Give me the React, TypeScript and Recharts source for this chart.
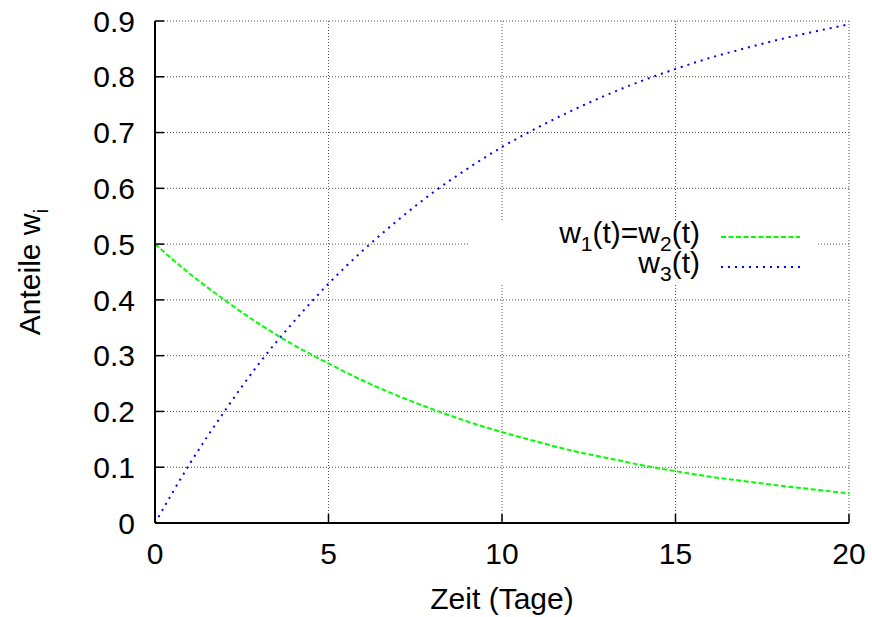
import { CartesianGrid, Legend, Line, LineChart, XAxis, YAxis } from 'recharts';

// Zeit in Tagen
const days = [0, 1, 2, 3, 4, 5, 6, 7, 8, 9, 10, 11, 12, 13, 14, 15, 16, 17, 18, 19, 20];
const w12 = [0.5, 0.447, 0.4, 0.357, 0.319, 0.286, 0.255, 0.228, 0.204, 0.182, 0.163, 0.146, 0.13, 0.117, 0.104, 0.093, 0.083, 0.075, 0.067, 0.06, 0.053];
const w3 = [0, 0.106, 0.2, 0.286, 0.361, 0.429, 0.489, 0.543, 0.592, 0.635, 0.674, 0.708, 0.739, 0.767, 0.792, 0.814, 0.834, 0.851, 0.867, 0.881, 0.894];
const xTicks = [0, 5, 10, 15, 20];
const yTicks = [0, 0.1, 0.2, 0.3, 0.4, 0.5, 0.6, 0.7, 0.8, 0.9];

const data = days.map((t, i) => ({ t, w12: w12[i], w3: w3[i] }));

const FS = 30;
const SUB = 21;

function YLabel({ viewBox }: any) {
  const cy = viewBox.y + viewBox.height / 2;
  const x = 40;
  return (
    <text x={x} y={cy} transform={`rotate(-90 ${x} ${cy})`} textAnchor="middle" fontSize={FS} fill="#000">
      Anteile w<tspan fontSize={SUB} dy={8}>i</tspan>
    </text>
  );
}

function XLabel({ viewBox }: any) {
  const cx = viewBox.x + viewBox.width / 2;
  return (
    <text x={cx} y={viewBox.y + viewBox.height - 8} textAnchor="middle" fontSize={FS} fill="#000">
      Zeit (Tage)
    </text>
  );
}

function LegendBox() {
  return (
    <svg width={350} height={62} style={{ display: 'block', overflow: 'visible' }}>
      <rect width={350} height={62} fill="#fff" />
      <text x={232} y={21} textAnchor="end" fontSize={FS} fill="#000">
        w<tspan fontSize={SUB} dy={8}>1</tspan>
        <tspan dy={-8}>(t)=w</tspan>
        <tspan fontSize={SUB} dy={8}>2</tspan>
        <tspan dy={-8}>(t)</tspan>
      </text>
      <line x1={253} x2={332} y1={15} y2={15} stroke="#00ff00" strokeWidth={2} strokeDasharray="5 2.5" />
      <text x={232} y={51} textAnchor="end" fontSize={FS} fill="#000">
        w<tspan fontSize={SUB} dy={8}>3</tspan>
        <tspan dy={-8}>(t)</tspan>
      </text>
      <line x1={253} x2={332} y1={45} y2={45} stroke="#0000ff" strokeWidth={2} strokeDasharray="2 5" />
    </svg>
  );
}

const axisLine = { stroke: '#000', strokeWidth: 2 };
const tickLine = { stroke: '#000', strokeWidth: 1.5 };

export default function App() {
  return (
    <div style={{ position: 'absolute', left: 0, top: 0, fontFamily: '"Liberation Sans", Arial, sans-serif' }}>
      <LineChart width={872} height={617} data={data} margin={{ top: 21, right: 23, left: 0, bottom: 0 }}>
        <CartesianGrid stroke="#555" strokeDasharray="1 2" />
        <XAxis
          dataKey="t"
          type="number"
          domain={[0, 20]}
          ticks={xTicks}
          height={94}
          tick={{ fill: '#000', fontSize: FS }}
          tickSize={-9}
          tickMargin={29}
          axisLine={axisLine}
          tickLine={tickLine}
          label={<XLabel />}
        />
        <XAxis
          xAxisId="top"
          orientation="top"
          dataKey="t"
          type="number"
          domain={[0, 20]}
          ticks={xTicks}
          height={0}
          tick={false}
          tickSize={-9}
          axisLine={axisLine}
          tickLine={tickLine}
        />
        <YAxis
          type="number"
          domain={[0, 0.9]}
          ticks={yTicks}
          width={155}
          tick={{ fill: '#000', fontSize: FS }}
          tickFormatter={(v: number) => (v === 0 ? '0' : v.toFixed(1))}
          tickSize={-9}
          tickMargin={29}
          axisLine={axisLine}
          tickLine={tickLine}
          label={<YLabel />}
        />
        <YAxis
          yAxisId="right"
          orientation="right"
          type="number"
          domain={[0, 0.9]}
          ticks={yTicks}
          width={0}
          tick={false}
          tickSize={-9}
          axisLine={axisLine}
          tickLine={tickLine}
        />
        <Legend
          layout="vertical"
          align="center"
          verticalAlign="middle"
          wrapperStyle={{ left: 468, top: 222, width: 350, height: 62 }}
          content={() => <LegendBox />}
        />
        <Line
          type="monotone"
          dataKey="w12"
          stroke="#00ff00"
          strokeWidth={2}
          strokeDasharray="5 2.5"
          dot={false}
          isAnimationActive={false}
        />
        <Line
          type="monotone"
          dataKey="w3"
          stroke="#0000ff"
          strokeWidth={2}
          strokeDasharray="2 5"
          dot={false}
          isAnimationActive={false}
        />
      </LineChart>
    </div>
  );
}
